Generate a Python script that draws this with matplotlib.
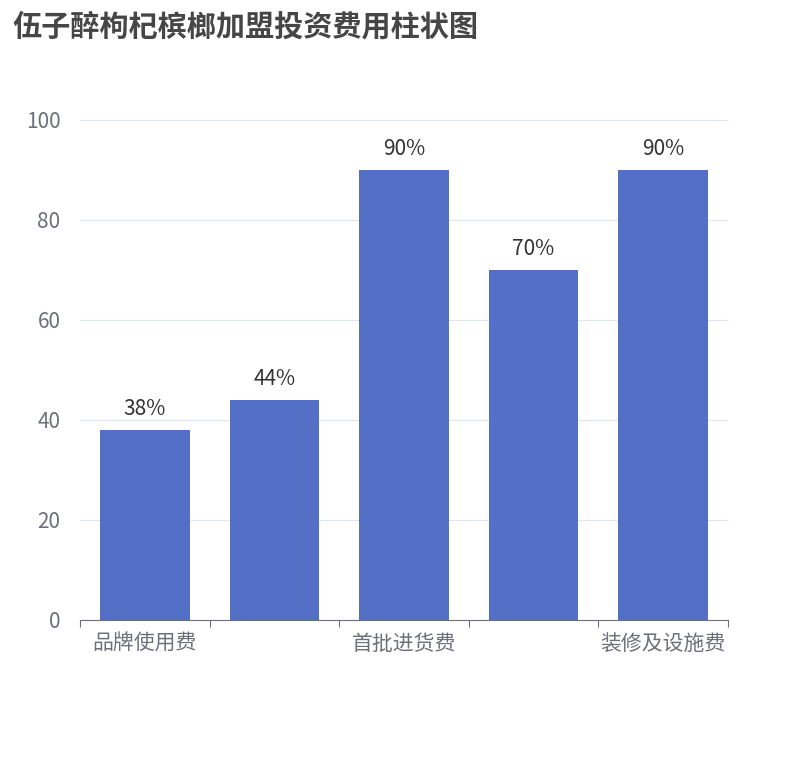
import matplotlib
matplotlib.use("Agg")
import matplotlib.pyplot as plt

plt.rcParams['font.family'] = ['Noto Sans CJK SC', 'DejaVu Sans']

categories = ["品牌使用费", "加盟保证金", "首批进货费", "人员培训费", "装修及设施费"]
values = [38, 44, 90, 70, 90]
shown_labels = ["品牌使用费", "", "首批进货费", "", "装修及设施费"]
yticks = [0, 20, 40, 60, 80, 100]

fig = plt.figure(figsize=(8.1, 7.6), dpi=100)
ax = fig.add_axes([80/810, 1-620/760, 648/810, 500/760])
x = list(range(len(categories)))
bars = ax.bar(x, values, width=0.69, color="#5470c6", zorder=3)
for xi, v in zip(x, values):
    ax.text(xi, v + 2, f"{v}%", ha="center", va="bottom", fontsize=15, color="#333333")
ax.set_xlim(-0.5, len(categories) - 0.5)
ax.set_ylim(0, 100)
ax.set_yticks(yticks)
ax.set_yticklabels([str(t) for t in yticks], fontsize=15, color="#6e7079")
ax.tick_params(axis='y', length=0, pad=14)
ax.grid(axis='y', color="#e0e6f1", zorder=0)
ax.set_xticks([i - 0.5 for i in range(len(categories) + 1)], minor=False)
ax.set_xticklabels([])
ax.tick_params(axis='x', length=5, color="#6e7079")
for xi, lab in zip(x, shown_labels):
    if lab:
        ax.text(xi, -2.5, lab, ha="center", va="top", fontsize=15, color="#6e7079")
for s in ["top", "right", "left"]:
    ax.spines[s].set_visible(False)
ax.spines["bottom"].set_color("#6e7079")
fig.text(12/810, 1-26/760, "伍子醉枸杞槟榔加盟投资费用柱状图", fontsize=21, fontweight="bold",
         color="#464646", va="center", ha="left")
fig.savefig("out.png", dpi=100)
